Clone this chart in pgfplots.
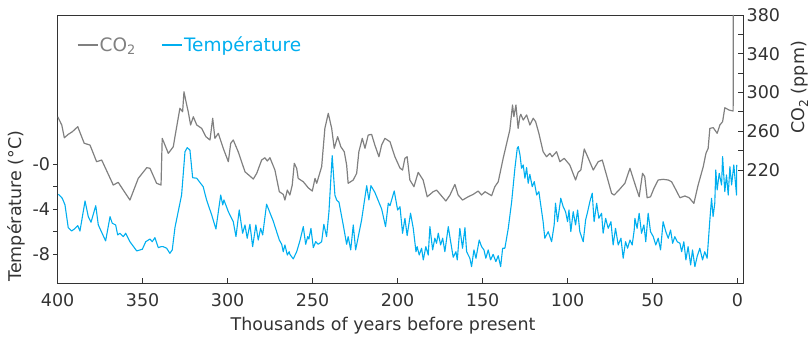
\documentclass[border=0pt]{standalone}
\usepackage{pgfplots}
\pgfplotsset{compat=1.18}
\usepackage{fontspec}
\setmainfont{DejaVu Sans}
\definecolor{co2}{HTML}{808080}
\definecolor{temp}{HTML}{00AEEF}
\definecolor{txt}{HTML}{333333}
\newcommand\chartfont{\fontsize{17.5bp}{21bp}\selectfont}
\newcommand\legfont{\fontsize{18.5bp}{22bp}\selectfont}
\begin{document}
\begin{tikzpicture}
\useasboundingbox (-57.7bp,-54bp) rectangle (754.3bp,283bp);
\pgfplotsset{
  base/.style={
    at={(0,0)}, anchor=south west,
    scale only axis, width=685.3bp, height=268bp,
    x dir=reverse, xmin=-3.2, xmax=400,
    axis line style={txt, line width=0.9bp},
    every tick/.style={txt, line width=0.9bp},
    major tick length=4.5bp, minor tick length=4.5bp,
    tick label style={font=\chartfont, text=txt},
    label style={font=\chartfont, text=txt},
  }
}
\begin{axis}[base,
  ymin=-10.58, ymax=13.24,
  xtick={0,50,...,400}, xticklabels={0,50,100,150,200,250,300,350,400},
  xtick pos=left, xtick align=inside,
  xticklabel style={inner sep=0pt, yshift=-10bp},
  ytick={-8,-6,-4,-2,0}, yticklabels={-8,,-4,,-0},
  ytick pos=left, ytick align=outside,
  yticklabel style={inner sep=0pt, xshift=-3bp},
  xlabel={Thousands of years before present},
  xlabel style={at={(axis description cs:0.4747,-0.1754)}, anchor=base},
  ylabel={Température (°C)},
  ylabel style={at={(axis description cs:-0.0608,0.287)}, anchor=center},
]
\addplot[temp, line width=1.1bp, line join=round] coordinates {
(399.6,-2.69)(397.3,-3.05)(395.7,-3.64)(393.8,-5.66)(391.8,-5.96)(390.2,-5.78)(388.2,-5.48)(386.9,-5.96)(383.9,-3.29)(382.0,-4.68)(380.4,-5.18)(377.6,-3.71)(376.1,-5.42)(371.8,-6.84)(369.2,-4.68)(367.9,-5.27)(365.9,-5.42)(364.7,-6.31)(363.4,-6.16)(361.4,-6.46)(360.0,-6.16)(357.5,-6.91)(353.5,-7.73)(350.2,-7.58)(348.2,-6.91)(345.7,-6.67)(344.4,-6.91)(342.8,-6.55)(340.8,-7.44)(339.2,-7.35)(337.9,-7.35)(335.9,-7.49)(334.0,-7.94)(332.6,-7.64)(331.0,-5.65)(327.1,-2.76)(325.1,1.09)(323.8,1.45)(322.2,1.24)(320.6,-1.22)(318.2,-1.27)(314.4,-2.02)(312.4,-3.20)(309.4,-4.53)(306.9,-5.78)(304.1,-2.76)(302.9,-3.64)(302.2,-3.20)(299.6,-4.24)(296.7,-5.13)(295.1,-6.46)(293.2,-4.09)(291.2,-6.16)(289.8,-5.42)(288.5,-6.60)(286.9,-5.36)(285.3,-7.35)(283.4,-5.42)(282.0,-6.76)(280.6,-5.72)(279.4,-6.31)(277.1,-3.58)(273.2,-5.07)(269.6,-6.76)(268.2,-7.14)(267.3,-7.80)(266.3,-7.20)(264.9,-8.09)(263.8,-7.80)(263.4,-8.03)(261.4,-8.44)(259.4,-7.80)(257.5,-6.84)(255.5,-5.57)(254.1,-7.14)(252.9,-6.46)(252.2,-6.67)(251.0,-5.72)(249.6,-7.44)(248.2,-6.91)(246.7,-7.14)(244.7,-6.91)(243.4,-5.36)(241.8,-6.46)(240.4,-4.24)(238.5,0.74)(236.9,-2.76)(235.9,-3.20)(234.5,-3.40)(232.0,-5.42)(230.0,-7.14)(229.1,-6.46)(227.6,-7.64)(226.1,-5.42)(224.7,-7.64)(221.2,-4.98)(218.2,-1.93)(216.9,-3.20)(215.7,-1.93)(213.4,-2.52)(209.4,-4.00)(207.1,-5.57)(205.5,-3.49)(204.5,-3.71)(202.0,-2.40)(200.0,-4.09)(198.6,-3.80)(197.1,-6.16)(195.7,-4.83)(194.4,-6.37)(192.4,-4.38)(190.8,-5.72)(189.2,-7.80)(188.5,-7.35)(187.3,-8.09)(185.9,-7.49)(184.9,-8.53)(183.4,-7.35)(182.0,-8.09)(181.0,-5.57)(179.4,-7.64)(178.1,-6.60)(177.1,-7.05)(176.1,-6.16)(174.7,-7.20)(173.5,-6.60)(172.2,-7.80)(170.2,-5.57)(168.8,-6.91)(167.3,-8.29)(165.7,-7.80)(164.9,-8.53)(163.4,-5.72)(161.8,-7.49)(160.4,-5.66)(159.4,-7.80)(157.5,-8.38)(156.5,-9.13)(155.1,-7.64)(153.9,-8.38)(152.0,-6.76)(150.6,-7.35)(149.2,-7.64)(148.1,-8.38)(146.7,-7.64)(145.3,-8.53)(143.8,-8.03)(142.2,-8.68)(140.8,-8.15)(139.4,-9.13)(138.2,-7.49)(136.9,-7.49)(134.9,-5.72)(132.9,-3.35)(131.0,-0.38)(129.6,1.40)(129.0,1.54)(128.0,0.80)(127.1,-0.38)(126.1,-0.09)(125.1,-1.27)(124.1,-0.33)(123.2,-1.72)(122.2,-0.92)(120.8,-2.02)(119.6,-1.57)(118.2,-2.76)(116.9,-2.46)(114.4,-5.13)(113.4,-6.60)(111.4,-6.02)(109.4,-6.91)(107.9,-5.42)(107.1,-3.49)(105.9,-5.13)(104.0,-3.05)(102.6,-3.80)(101.2,-4.24)(100.0,-5.13)(99.2,-4.09)(98.1,-6.02)(96.7,-4.24)(95.3,-5.42)(94.1,-4.09)(92.8,-6.02)(90.8,-6.91)(89.4,-4.98)(88.2,-4.24)(86.9,-3.35)(85.5,-2.60)(84.4,-5.13)(82.9,-3.49)(81.6,-4.83)(80.0,-4.38)(79.1,-6.16)(77.6,-4.83)(76.1,-5.72)(74.5,-5.13)(73.2,-7.20)(71.8,-5.72)(70.2,-7.20)(68.6,-6.60)(67.3,-8.38)(65.9,-6.91)(64.7,-7.49)(63.3,-6.76)(62.0,-7.20)(60.8,-5.87)(60.4,-4.83)(59.1,-5.72)(57.9,-4.38)(56.5,-6.16)(55.1,-5.42)(54.0,-6.91)(52.6,-4.38)(51.2,-6.02)(49.6,-6.46)(48.1,-7.20)(46.7,-6.60)(45.3,-7.64)(43.8,-5.13)(42.2,-6.02)(40.8,-6.60)(39.4,-5.87)(38.2,-7.05)(36.9,-6.46)(35.5,-6.91)(33.9,-7.05)(32.9,-7.80)(31.6,-6.91)(30.4,-8.53)(29.1,-7.35)(27.6,-8.98)(26.5,-7.64)(25.1,-9.13)(23.8,-8.24)(22.2,-7.49)(20.6,-8.53)(19.3,-7.80)(17.9,-8.38)(16.3,-4.98)(15.3,-3.05)(14.4,-4.68)(13.4,-3.49)(12.8,-0.53)(12.0,-2.31)(10.8,-0.83)(9.4,-1.87)(8.8,0.65)(7.5,-2.46)(6.5,-0.98)(5.5,-2.76)(4.5,-0.24)(3.5,-1.87)(2.2,-0.09)(0.6,-2.76)(0.5,-0.09)
};
\end{axis}
\begin{axis}[base,
  ymin=103.4, ymax=380,
  axis x line=none, axis y line*=right,
  ytick={220,240,...,380}, yticklabels={220,,260,,300,,340,,380},
  ytick align=inside,
  yticklabel style={inner sep=0pt, xshift=3.5bp},
  ylabel={CO\textsubscript{2} (ppm)},
  ylabel style={at={(axis description cs:1.0832,0.7295)}, anchor=center},
  legend style={at={(axis description cs:0.0282,0.888)}, anchor=west, draw=none, fill=none,
    inner sep=0pt, outer sep=0pt, font=\legfont, nodes={inner sep=1.5bp},
    /tikz/every even column/.append style={column sep=24bp}},
  legend columns=2,
  legend image code/.code={\draw[#1] (0bp,0bp) -- (20bp,0bp);},
]
\addplot[co2, line width=1.2bp, line join=round] coordinates {
(400,275.0)(397.6,266.5)(396.1,253.3)(393.8,256.8)(391.4,259.5)(388.2,264.7)(384.4,247.6)(381.0,245.8)(377.1,228.6)(374.1,230.3)(367.3,204.5)(364.4,207.3)(357.5,189.0)(352.6,211.4)(347.6,222.4)(345.7,221.8)(341.8,206.3)(339.2,204.5)(338.5,252.7)(334.9,237.2)(332.0,244.0)(331.0,254.4)(328.1,283.7)(326.5,280.2)(325.7,300.8)(324.5,290.5)(323.2,280.2)(321.8,266.5)(320.2,275.0)(318.2,266.5)(315.3,263.0)(312.8,254.4)(310.4,251.0)(308.8,273.4)(307.5,252.7)(305.5,257.9)(302.6,242.4)(299.6,228.6)(298.2,247.6)(296.7,251.0)(293.8,238.9)(289.8,218.2)(284.9,210.7)(282.9,216.6)(280.0,230.3)(278.1,232.7)(276.7,229.3)(275.1,232.7)(272.2,220.0)(269.6,197.6)(267.3,194.9)(266.3,189.0)(264.9,199.3)(263.4,194.2)(262.0,204.5)(260.8,226.9)(259.4,221.8)(258.5,211.4)(255.5,207.9)(252.6,201.7)(250.2,198.3)(248.6,211.4)(247.6,206.3)(244.7,223.4)(242.8,263.0)(240.8,278.5)(238.8,263.0)(237.3,242.4)(235.3,254.4)(233.4,244.0)(231.4,238.9)(230.0,225.2)(229.1,206.3)(226.1,209.7)(224.1,216.6)(222.8,238.9)(220.8,252.7)(219.2,242.4)(217.3,256.1)(215.3,256.8)(213.4,245.8)(211.0,233.7)(209.4,245.8)(207.5,252.7)(204.5,249.2)(201.6,233.7)(198.6,222.0)(197.1,220.0)(195.7,232.1)(194.4,233.7)(192.8,209.7)(190.4,202.8)(187.9,217.6)(185.0,209.7)(182.6,192.4)(179.1,197.6)(177.1,199.3)(171.6,188.0)(169.2,194.2)(166.3,205.2)(164.4,194.2)(161.8,189.0)(158.5,192.4)(155.5,194.9)(152.6,198.3)(150.6,194.2)(148.6,197.6)(144.7,193.5)(142.8,202.8)(140.8,207.9)(137.9,232.1)(134.0,261.3)(132.4,287.1)(131.6,275.0)(130.4,287.1)(129.1,263.0)(128.1,275.0)(127.5,277.5)(126.1,271.6)(124.1,276.8)(122.2,266.5)(120.2,273.4)(118.8,269.9)(116.9,257.9)(114.4,238.9)(112.4,233.7)(110.4,237.2)(109.1,233.7)(106.5,238.9)(104.5,228.6)(102.0,232.1)(98.7,225.2)(95.3,209.7)(93.8,217.6)(92.2,220.0)(90.2,241.7)(88.2,233.7)(84.9,220.0)(82.0,228.6)(79.6,230.3)(77.1,214.8)(74.1,195.9)(72.6,194.2)(69.8,199.3)(66.3,206.3)(63.3,221.8)(60.8,207.9)(57.9,192.4)(55.9,216.6)(54.6,213.1)(53.2,191.4)(51.2,192.4)(49.2,201.1)(46.7,209.7)(43.8,210.4)(40.8,209.7)(38.8,207.9)(35.9,198.3)(33.9,191.4)(31.0,193.2)(28.5,191.4)(25.7,185.6)(23.2,204.5)(20.2,223.4)(18.6,237.2)(17.3,242.4)(16.3,263.0)(14.3,263.7)(12.0,257.9)(10.4,266.5)(8.8,269.9)(7.5,284.3)(5.0,281.9)(2.6,280.9)(2.5,380)
};
\addlegendentry{\textcolor{co2}{CO\textsubscript{2}}}
\addlegendimage{temp, line width=1.1bp}
\addlegendentry{\textcolor{temp}{Température}}
\end{axis}
\end{tikzpicture}
\end{document}
